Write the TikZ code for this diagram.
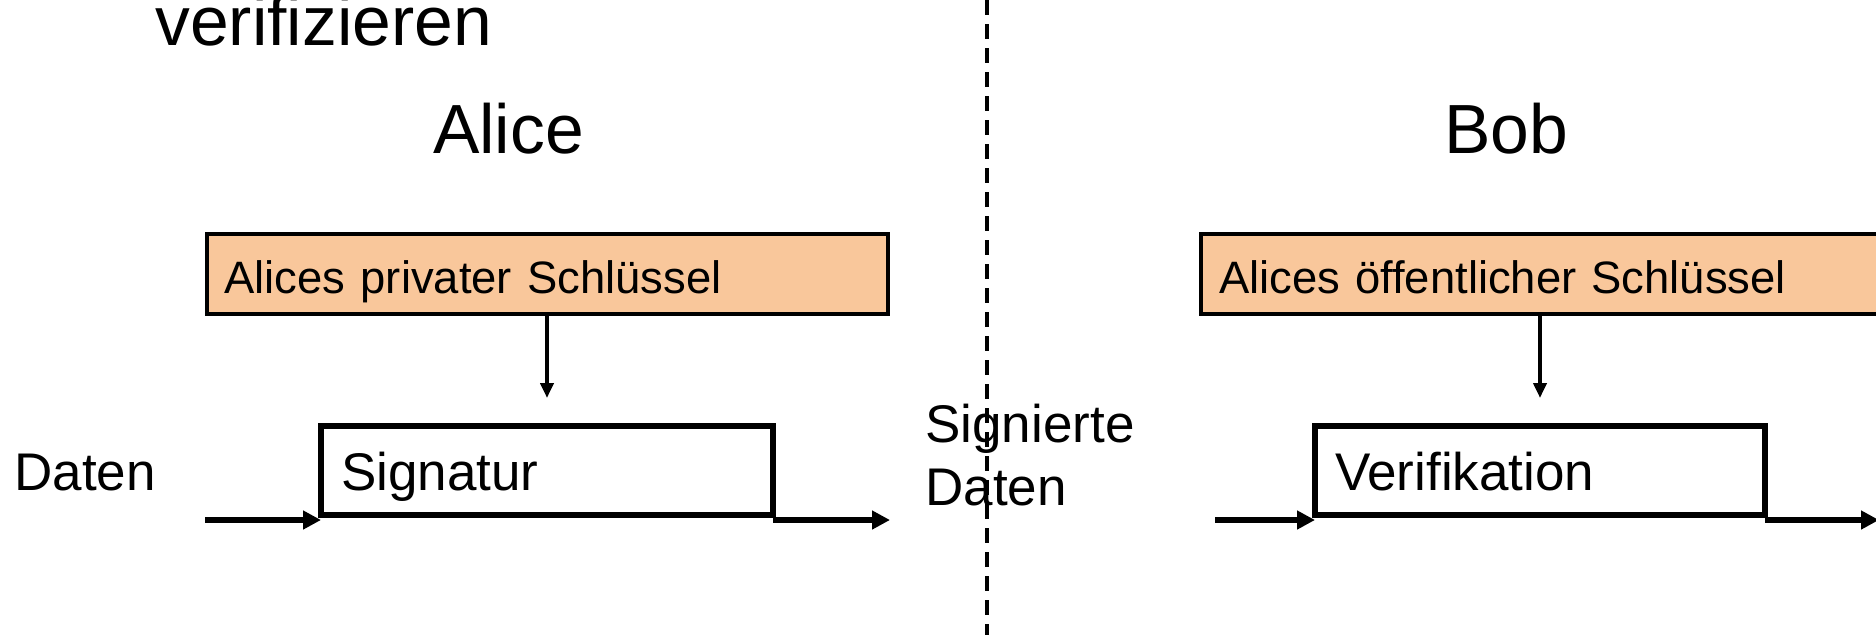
\documentclass[tikz,border=0pt]{standalone}
\usepackage{fontspec}
\setmainfont{Liberation Sans}
\usetikzlibrary{arrows.meta}
\definecolor{keyfill}{RGB}{249,199,155}
\begin{document}
\begin{tikzpicture}[x=0.5pt,y=-0.5pt,
  bigtext/.style={inner sep=0pt, font=\fontsize{34.8}{40}\selectfont},
  midtext/.style={inner sep=0pt, font=\fontsize{26.5}{31.5}\selectfont},
  keybox/.style={draw=black, line width=2pt, fill=keyfill, rectangle, outer sep=0pt,
    minimum height=40pt, inner xsep=9pt, inner ysep=0pt, align=left,
    text height=19pt, text depth=0pt, font=\fontsize{22.7}{26}\selectfont},
  procbox/.style={draw=black, line width=3pt, fill=white, rectangle, outer sep=0pt,
    minimum height=44.5pt, inner xsep=10pt, inner ysep=0pt, align=left,
    text height=20pt, text depth=0pt, font=\fontsize{26.5}{31.5}\selectfont},
  keyarrow/.style={line width=2pt, -{Triangle[length=7.5pt,width=6.5pt]}, shorten >=14pt},
  flow/.style={line width=3.25pt, -{Triangle[length=9pt,width=9pt]}},
  divider/.style={line width=2pt, dash pattern=on 7.5pt off 4.5pt}
]
\useasboundingbox (0,0) rectangle (1876,634);
\clip (0,0) rectangle (1876,634);

% title and headings
\node[bigtext, anchor=base west] (title) at (155,45.5) {verifizieren};
\node[bigtext, anchor=base] (alice) at (508.5,153) {Alice};
\node[bigtext, anchor=base] (bob) at (1506,153) {Bob};

% divider
\coordinate (divtop) at (987,0);
\coordinate (divbot) at (987,640);
\draw[divider] (divtop) -- (divbot);

% Alice side
\node[keybox, text width=322.5pt] (akey) at (547,274) {Alices privater Schlüssel};
\node[procbox, text width=206pt] (sig) at (547,470.5) {Signatur};
\node[midtext, anchor=base west] (daten) at (14,490.5) {Daten};
\coordinate (ain) at (205,520);
\coordinate (aout) at (890,520);
\draw[keyarrow] (akey.south -| sig.north) -- (sig.north);
\draw[flow] (ain) -- (ain -| sig.west);
\draw[flow] (sig.east |- aout) -- (aout);

\node[midtext, anchor=base west, align=left] (signed) at (925,505) {Signierte\\Daten};

% Bob side
\node[keybox, text width=332pt] (bkey) at (1551,274) {Alices öffentlicher Schlüssel};
\node[procbox, text width=205pt] (ver) at (1540,470.5) {Verifikation};
\coordinate (bin) at (1215,520);
\coordinate (bout) at (1879,520);
\draw[keyarrow] (bkey.south -| ver.north) -- (ver.north);
\draw[flow] (bin) -- (bin -| ver.west);
\draw[flow] (ver.east |- bout) -- (bout);
\end{tikzpicture}
\end{document}
